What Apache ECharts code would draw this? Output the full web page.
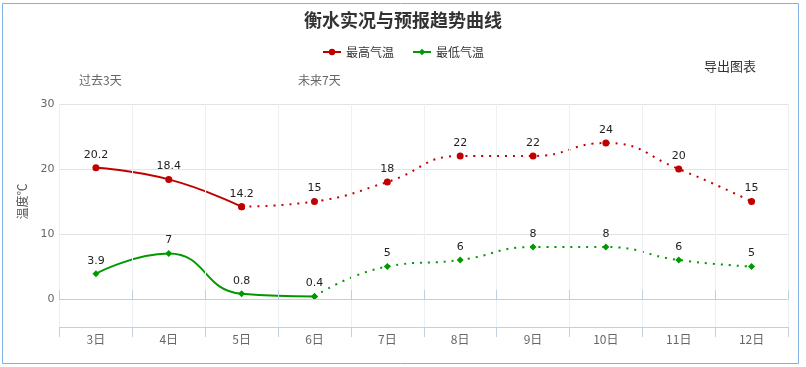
<!DOCTYPE html>
<html><head><meta charset="utf-8">
<script src="https://cdn.jsdelivr.net/npm/echarts@6/dist/echarts.min.js"></script>
<style>html,body{margin:0;padding:0;background:#fff}#c{width:806px;height:367px}</style>
</head><body><div id="c"></div>
<script>
const categories = ['3日','4日','5日','6日','7日','8日','9日','10日','11日','12日'];
const highTemps = [20.2, 18.4, 14.2, 15, 18, 22, 22, 24, 20, 15];
const lowTemps = [3.9, 7, 0.8, 0.4, 5, 6, 8, 8, 6, 5];
const highActualCount = 3; // 3日-5日 observed
const lowActualCount = 4;  // 3日-6日 observed
const yTicks = [0, 10, 20, 30];

const FONT = '"Noto Sans CJK SC", "Noto Sans", sans-serif';
const NUMFONT = '"DejaVu Sans", "Noto Sans CJK SC", sans-serif';
const RED = '#c00000', GREEN = '#009900';

function part(arr, from, to) { return arr.map((v, i) => (i >= from && i <= to) ? v : '-'); }
function labelled(arr, skipIdx) {
  return arr.map((v, i) => v === '-' ? '-' : (i === skipIdx ? {value: v, label: {show: false}} : v));
}

const labelStyle = {show: true, position: 'top', distance: 4, color: '#222', fontSize: 11, fontFamily: NUMFONT};

const chart = echarts.init(document.getElementById('c'), null, {renderer: 'canvas'});
chart.setOption({
  animation: false,
  textStyle: {fontFamily: FONT},
  title: {text: '衡水实况与预报趋势曲线', left: 'center', top: 6,
    textStyle: {fontSize: 18, fontWeight: 'bold', color: '#333', fontFamily: FONT}},
  legend: {top: 41, left: 'center', itemGap: 18, itemWidth: 18, itemHeight: 8,
    textStyle: {fontSize: 12, color: '#333', fontFamily: FONT},
    data: ['最高气温', '最低气温']},
  graphic: [
    {type: 'rect', shape: {x: 2.5, y: 3.5, width: 796, height: 360}, style: {fill: 'none', stroke: '#7fb2e5', lineWidth: 1}, silent: true},
    {type: 'text', left: 79, top: 74, style: {text: '过去3天', fill: '#666', font: '12px ' + FONT}},
    {type: 'text', left: 298, top: 74, style: {text: '未来7天', fill: '#666', font: '12px ' + FONT}},
    {type: 'text', left: 704, top: 60, style: {text: '导出图表', fill: '#333', font: '13px ' + FONT}}
  ],
  grid: [
    {left: 59.5, right: 18, top: 104, height: 195},
    {left: 59.5, right: 18, top: 299, height: 28}
  ],
  xAxis: [
    {gridIndex: 0, type: 'category', data: categories, position: 'top', boundaryGap: true, z: 5,
      axisLine: {show: true, lineStyle: {color: '#c0d0e0'}},
      axisTick: {show: true, length: 9, lineStyle: {color: '#c0d0e0'}},
      axisLabel: {show: false},
      splitLine: {show: true, lineStyle: {color: '#eceff3'}}},
    {gridIndex: 1, type: 'category', data: categories, position: 'bottom', boundaryGap: true,
      axisLine: {show: true, lineStyle: {color: '#c0d0e0'}},
      axisTick: {show: true, length: 10, lineStyle: {color: '#c0d0e0'}},
      axisLabel: {show: true, color: '#666', fontSize: 12, margin: 6, fontFamily: FONT},
      splitLine: {show: true, lineStyle: {color: '#eceff3'}}}
  ],
  yAxis: [
    {gridIndex: 0, type: 'value', min: yTicks[0], max: yTicks[yTicks.length - 1], interval: 10,
      name: '温度℃', nameLocation: 'middle', nameGap: 31,
      nameTextStyle: {color: '#555', fontSize: 12, fontFamily: FONT},
      axisLine: {show: false}, axisTick: {show: false},
      axisLabel: {color: '#666', fontSize: 11, margin: 5, fontFamily: NUMFONT},
      splitLine: {show: true, lineStyle: {color: '#e3e3e3'}}},
    {gridIndex: 1, type: 'value', min: 0, max: 1, show: false, splitLine: {show: false}}
  ],
  series: [
    {name: '最高气温', type: 'line', xAxisIndex: 0, yAxisIndex: 0, smooth: 0.5,
      data: part(highTemps, 0, highActualCount - 1),
      symbol: 'circle', symbolSize: 7, color: RED,
      lineStyle: {color: RED, width: 2}, itemStyle: {color: RED}, label: labelStyle, z: 3},
    {name: '最高气温', type: 'line', xAxisIndex: 0, yAxisIndex: 0, smooth: 0.5,
      data: labelled(part(highTemps, highActualCount - 1, highTemps.length - 1), highActualCount - 1),
      symbol: 'circle', symbolSize: 7, color: RED,
      lineStyle: {color: RED, width: 2, type: [2, 6]}, itemStyle: {color: RED}, label: labelStyle, z: 2},
    {name: '最低气温', type: 'line', xAxisIndex: 0, yAxisIndex: 0, smooth: 0.5,
      data: part(lowTemps, 0, lowActualCount - 1),
      symbol: 'diamond', symbolSize: 7, color: GREEN,
      lineStyle: {color: GREEN, width: 2}, itemStyle: {color: GREEN}, label: labelStyle, z: 3},
    {name: '最低气温', type: 'line', xAxisIndex: 0, yAxisIndex: 0, smooth: 0.5,
      data: labelled(part(lowTemps, lowActualCount - 1, lowTemps.length - 1), lowActualCount - 1),
      symbol: 'diamond', symbolSize: 7, color: GREEN,
      lineStyle: {color: GREEN, width: 2, type: [2, 6]}, itemStyle: {color: GREEN}, label: labelStyle, z: 2}
  ]
});
</script></body></html>
